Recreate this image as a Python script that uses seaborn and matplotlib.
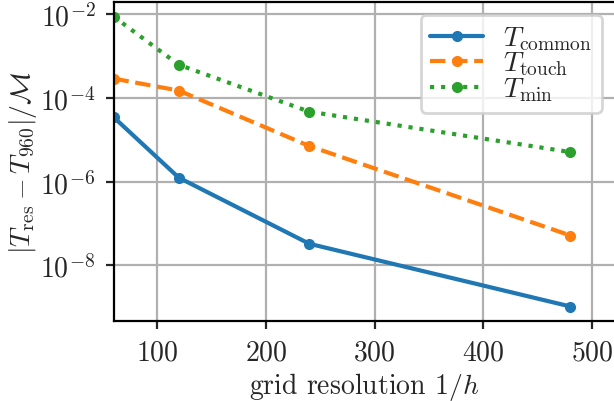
import numpy as np
import pandas as pd
import seaborn as sns
import matplotlib.pyplot as plt

# grid resolutions 1/h
resolution = [60, 120, 240, 480]

# relative error against the 1/h = 960 reference
err_common = [3.5e-5, 1.25e-6, 3.3e-8, 1.05e-9]
err_touch = [2.9e-4, 1.5e-4, 7.1e-6, 5.2e-8]
err_min = [8.8e-3, 6.2e-4, 4.7e-5, 5.1e-6]

labels = [r'$T_\mathrm{common}$', r'$T_\mathrm{touch}$', r'$T_\mathrm{min}$']
yticks = [1e-8, 1e-6, 1e-4, 1e-2]

sns.set_style('ticks')
plt.rcParams['font.family'] = 'serif'
plt.rcParams['font.serif'] = ['cmr10', 'DejaVu Serif']
plt.rcParams['mathtext.fontset'] = 'cm'
plt.rcParams['axes.formatter.use_mathtext'] = True
plt.rcParams['axes.unicode_minus'] = False
plt.rcParams['font.size'] = 10
plt.rcParams['xtick.major.size'] = 3
plt.rcParams['ytick.major.size'] = 3

colors = sns.color_palette('tab10')[:3]
styles = ['-', '--', ':']

fig = plt.figure(figsize=(3.07, 2.01), dpi=200)
ax = fig.add_axes([113.5 / 614, 1 - 322 / 402, 1 - 113.5 / 614, (322 - 3) / 402])

for vals, lab, c, ls in zip([err_common, err_touch, err_min], labels, colors, styles):
    df = pd.DataFrame({'res': resolution, 'err': vals})
    sns.lineplot(data=df, x='res', y='err', ax=ax, color=c, linestyle=ls,
                 marker='o', markersize=4, markeredgecolor=c, markeredgewidth=0,
                 linewidth=1.5, label=lab)

ax.set_yscale('log')
ax.set_xlim(60, 520)
ax.set_yticks(yticks)
ax.yaxis.set_minor_locator(plt.NullLocator())
ax.set_xticks([100, 200, 300, 400, 500])
ax.grid(True, color='#b0b0b0', linewidth=0.8)
ax.spines['right'].set_visible(False)
for s in ['left', 'top', 'bottom']:
    ax.spines[s].set_color('black')
    ax.spines[s].set_linewidth(0.8)

ax.set_xlabel(r'grid resolution $1/h$', labelpad=1.5)
ax.set_ylabel(r'$|T_\mathrm{res} - T_{960}|/\mathcal{M}$', labelpad=0.5)
ax.legend(loc='upper right', fontsize=10, labelspacing=-0.08, handlelength=1.9,
          handletextpad=0.7, borderpad=0.35, borderaxespad=0.45)

fig.savefig('out.png', dpi=200)
